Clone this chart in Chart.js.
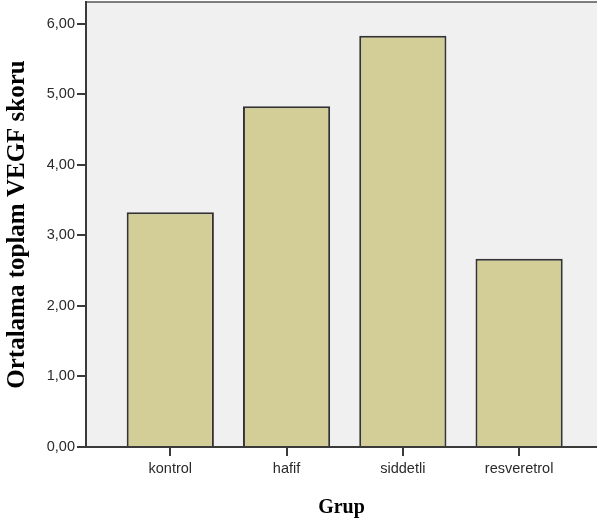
<!DOCTYPE html>
<html>
<head>
<meta charset="utf-8">
<script src="https://cdn.jsdelivr.net/npm/chart.js@4/dist/chart.umd.min.js"></script>
<style>
html,body{margin:0;padding:0;background:#fff;}
#wrap{width:597px;height:529px;position:relative;}
</style>
</head>
<body>
<div id="wrap"><canvas id="c"></canvas></div>
<script>
const categories = ["kontrol", "hafif", "siddetli", "resveretrol"];
const values = [3.33, 4.83, 5.83, 2.67];
const yTicks = [0, 1, 2, 3, 4, 5, 6];
const xTitle = "Grup";
const yTitle = "Ortalama toplam VEGF skoru";

const points = categories.map((c, i) => ({x: i, y: values[i]}));

const framePlugin = {
  id: 'frame',
  beforeDraw(chart) {
    const {ctx, chartArea: a} = chart;
    ctx.save();
    ctx.fillStyle = '#f0f0f0';
    ctx.fillRect(a.left, a.top, a.right - a.left, a.bottom - a.top);
    ctx.strokeStyle = '#555';
    ctx.lineWidth = 1.5;
    ctx.beginPath();
    ctx.moveTo(a.left, a.top);
    ctx.lineTo(a.right, a.top);
    ctx.stroke();
    ctx.restore();
  }
};

new Chart(document.getElementById('c'), {
  type: 'bar',
  data: {
    datasets: [{
      data: points,
      backgroundColor: '#d3ce97',
      borderColor: '#333',
      borderWidth: 2,
      categoryPercentage: 0.75,
      barPercentage: 1
    }]
  },
  options: {
    responsive: true,
    maintainAspectRatio: false,
    animation: false,
    layout: {padding: {top: 2, right: 0, left: 0, bottom: 0}},
    plugins: {legend: {display: false}, tooltip: {enabled: false}},
    scales: {
      x: {
        type: 'linear',
        offset: false,
        min: -0.725,
        max: 3.67,
        afterBuildTicks(s) { s.ticks = categories.map((c, i) => ({value: i})); },
        afterFit(s) { s.height = 82; s.paddingLeft = 0; s.paddingRight = 0; },
        ticks: {
          autoSkip: false,
          maxRotation: 0,
          padding: 4,
          color: '#2a2a2a',
          font: {family: 'Liberation Sans', size: 14.5},
          callback: v => categories[v]
        },
        grid: {offset: false, drawOnChartArea: false, drawTicks: true, tickLength: 9, color: '#3a3a3a', lineWidth: 2},
        border: {display: true, color: '#3a3a3a', width: 2},
        title: {
          display: true, text: xTitle, color: '#000',
          font: {family: 'Liberation Serif', size: 20, weight: 'bold'},
          padding: {top: 0, bottom: 9}
        }
      },
      y: {
        min: 0,
        max: 6.31,
        afterBuildTicks(s) { s.ticks = yTicks.map(v => ({value: v})); },
        afterFit(s) { s.width = 86; s.paddingTop = 0; s.paddingBottom = 0; },
        ticks: {
          padding: 2,
          color: '#2a2a2a',
          font: {family: 'Liberation Sans', size: 14.5},
          callback: v => Number(v).toFixed(2).replace('.', ',')
        },
        grid: {drawOnChartArea: false, drawTicks: true, tickLength: 9, color: '#3a3a3a', lineWidth: 2},
        border: {display: true, color: '#3a3a3a', width: 2},
        title: {
          display: true, text: yTitle, color: '#000',
          font: {family: 'Liberation Serif', size: 25, weight: 'bold'},
          padding: {top: 3, bottom: 0}
        }
      }
    }
  },
  plugins: [framePlugin]
});
</script>
</body>
</html>
